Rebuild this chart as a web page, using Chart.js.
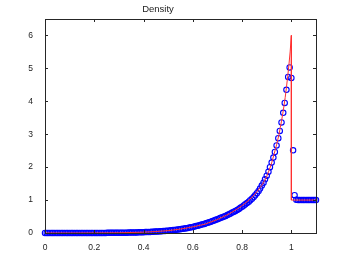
<!DOCTYPE html>
<html>
<head>
<meta charset="utf-8">
<script src="https://cdn.jsdelivr.net/npm/chart.js@4/dist/chart.umd.min.js"></script>
<style>
  body { margin: 0; background: #fff; }
  canvas { display: block; }
</style>
</head>
<body>
<canvas id="densityChart" width="349" height="263"></canvas>
<script>
// numerical solution (circles)
const xNum = [
  0, 0.007, 0.013, 0.02, 0.027, 0.033, 0.04, 0.047, 0.053, 0.06, 0.067, 0.073, 0.08, 0.087, 0.093,
  0.1, 0.107, 0.113, 0.12, 0.127, 0.133, 0.14, 0.147, 0.153, 0.16, 0.167, 0.173, 0.18, 0.187, 0.193,
  0.2, 0.207, 0.213, 0.22, 0.227, 0.233, 0.24, 0.247, 0.253, 0.26, 0.267, 0.273, 0.28, 0.287, 0.293,
  0.3, 0.307, 0.313, 0.32, 0.327, 0.333, 0.34, 0.347, 0.353, 0.36, 0.367, 0.373, 0.38, 0.387, 0.393,
  0.4, 0.407, 0.413, 0.42, 0.427, 0.433, 0.44, 0.447, 0.453, 0.46, 0.467, 0.473, 0.48, 0.487, 0.493,
  0.5, 0.507, 0.513, 0.52, 0.527, 0.533, 0.54, 0.547, 0.553, 0.56, 0.567, 0.573, 0.58, 0.587, 0.593,
  0.6, 0.607, 0.613, 0.62, 0.627, 0.633, 0.64, 0.647, 0.653, 0.66, 0.667, 0.673, 0.68, 0.687, 0.693,
  0.7, 0.707, 0.713, 0.72, 0.727, 0.733, 0.74, 0.747, 0.753, 0.76, 0.767, 0.773, 0.78, 0.787, 0.793,
  0.8, 0.807, 0.813, 0.82, 0.827, 0.833, 0.84, 0.847, 0.853, 0.86, 0.867, 0.873, 0.88, 0.887, 0.893,
  0.9, 0.907, 0.913, 0.92, 0.927, 0.933, 0.94, 0.947, 0.953, 0.96, 0.967, 0.973, 0.98, 0.987, 0.993,
  1.0, 1.007, 1.013, 1.02, 1.027, 1.033, 1.04, 1.047, 1.053, 1.06, 1.067, 1.073, 1.08, 1.087, 1.093,
  1.1
];
const rhoNum = [
  0, 0, 0, 0, 0, 0, 0, 0, 0, 0, 0, 0, 0, 0, 0,
  0, 0, 0, 0, 0, 0, 0, 0, 0, 0, 0.001, 0.001, 0.001, 0.001, 0.001,
  0.001, 0.002, 0.002, 0.002, 0.002, 0.003, 0.003, 0.003, 0.004, 0.004, 0.004, 0.005, 0.005, 0.006, 0.006,
  0.007, 0.008, 0.008, 0.009, 0.010, 0.011, 0.012, 0.013, 0.014, 0.015, 0.017, 0.018, 0.020, 0.021, 0.023,
  0.025, 0.027, 0.029, 0.031, 0.034, 0.036, 0.039, 0.042, 0.045, 0.048, 0.052, 0.055, 0.059, 0.063, 0.067,
  0.072, 0.077, 0.082, 0.088, 0.094, 0.100, 0.107, 0.114, 0.121, 0.129, 0.137, 0.146, 0.155, 0.165, 0.175,
  0.186, 0.197, 0.209, 0.221, 0.234, 0.248, 0.262, 0.277, 0.293, 0.309, 0.326, 0.344, 0.362, 0.381, 0.401,
  0.42, 0.44, 0.46, 0.48, 0.50, 0.52, 0.545, 0.57, 0.595, 0.62, 0.645, 0.672, 0.70, 0.73, 0.765,
  0.80, 0.835, 0.87, 0.91, 0.95, 0.995, 1.04, 1.09, 1.145, 1.21, 1.275, 1.35, 1.44, 1.53, 1.63,
  1.74, 1.86, 2.00, 2.14, 2.29, 2.46, 2.66, 2.88, 3.10, 3.36, 3.65, 3.95, 4.35, 4.74, 5.03,
  4.71, 2.51, 1.15, 1.01, 1.0, 1.0, 1.0, 1.0, 1.0, 1.0, 1.0, 1.0, 1.0, 1.0, 1.0,
  1.0
];

// exact solution (red line)
const xExact = [0, 0.1, 0.2, 0.3, 0.4, 0.45, 0.5, 0.55, 0.6, 0.65, 0.7, 0.75, 0.78, 0.8, 0.82, 0.84,
  0.86, 0.88, 0.89, 0.9, 0.91, 0.92, 0.93, 0.94, 0.95, 0.955, 0.96, 0.965, 0.97, 0.975, 0.98,
  0.985, 0.99, 0.995, 1.0, 1.0, 1.1];
const rhoExact = [0, 0, 0.001, 0.007, 0.025, 0.045, 0.072, 0.12, 0.186, 0.27, 0.41, 0.59, 0.73, 0.83, 0.95, 1.08,
  1.25, 1.45, 1.57, 1.72, 1.91, 2.13, 2.40, 2.68, 3.0, 3.2, 3.40, 3.62, 3.86, 4.12, 4.42,
  4.75, 5.1, 5.5, 6.0, 1.0, 1.0];

const xTicks = [0, 0.2, 0.4, 0.6, 0.8, 1];
const yTicks = [0, 1, 2, 3, 4, 5, 6];

const toPoints = (xs, ys) => xs.map((x, i) => ({ x: x, y: ys[i] }));

// MATLAB style box with inward ticks on all four sides
const boxPlugin = {
    id: 'box',
    afterDraw(chart) {
        const { ctx, chartArea: a, scales } = chart;
        ctx.save();
        ctx.strokeStyle = '#262626';
        ctx.lineWidth = 1;
        ctx.strokeRect(a.left + 0.5, a.top + 0.5, a.right - a.left, a.bottom - a.top);
        ctx.beginPath();
        xTicks.forEach(v => {
            const px = Math.round(scales.x.getPixelForValue(v)) + 0.5;
            ctx.moveTo(px, a.bottom); ctx.lineTo(px, a.bottom - 3);
            ctx.moveTo(px, a.top); ctx.lineTo(px, a.top + 3);
        });
        yTicks.forEach(v => {
            const py = Math.round(scales.y.getPixelForValue(v)) + 0.5;
            ctx.moveTo(a.left, py); ctx.lineTo(a.left + 3, py);
            ctx.moveTo(a.right, py); ctx.lineTo(a.right - 3, py);
        });
        ctx.stroke();
        ctx.restore();
    }
};

const ctx = document.getElementById('densityChart').getContext('2d');
new Chart(ctx, {
    type: 'scatter',
    data: {
        datasets: [{
            label: 'exact',
            data: toPoints(xExact, rhoExact),
            showLine: true,
            borderColor: '#ff3030',
            borderWidth: 1,
            pointRadius: 0,
            tension: 0,
            order: 0
        }, {
            label: 'numerical',
            data: toPoints(xNum, rhoNum),
            showLine: false,
            pointStyle: 'circle',
            pointRadius: 2.7,
            pointBorderWidth: 1.1,
            pointBorderColor: '#0000ff',
            pointBackgroundColor: 'rgba(0,0,0,0)',
            clip: false,
            order: 1
        }]
    },
    options: {
        responsive: false,
        animation: false,
        layout: { padding: { left: 0, right: 33, top: 0, bottom: 0 } },
        plugins: {
            legend: { display: false },
            tooltip: { enabled: false },
            title: {
                display: true,
                text: 'Density',
                color: '#222',
                font: { family: 'Liberation Sans, Arial, sans-serif', size: 9.5, weight: 'normal' },
                padding: { top: 4, bottom: 3.6 }
            }
        },
        scales: {
            x: {
                type: 'linear',
                min: 0,
                max: 1.1,
                grid: { display: false },
                border: { display: false },
                afterBuildTicks: s => { s.ticks = xTicks.map(v => ({ value: v })); },
                afterFit: s => { s.height = 30; },
                ticks: {
                    padding: 2,
                    color: '#222',
                    maxRotation: 0,
                    font: { family: 'Liberation Sans, Arial, sans-serif', size: 8.5 },
                    callback: v => String(v)
                }
            },
            y: {
                type: 'linear',
                min: 0,
                max: 6.5,
                grid: { display: false },
                border: { display: false },
                afterBuildTicks: s => { s.ticks = yTicks.map(v => ({ value: v })); },
                afterFit: s => { s.width = 45; },
                ticks: {
                    padding: 4,
                    color: '#222',
                    font: { family: 'Liberation Sans, Arial, sans-serif', size: 8.5 },
                    callback: v => String(v)
                }
            }
        }
    },
    plugins: [boxPlugin]
});
</script>
</body>
</html>
